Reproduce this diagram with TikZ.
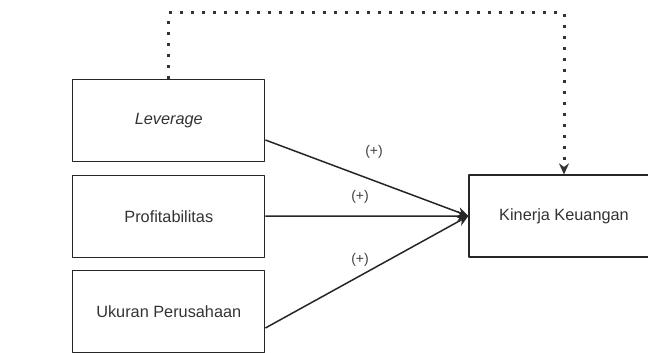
\documentclass[tikz,border=0pt]{standalone}
\usepackage{fontspec}
\setmainfont{Liberation Sans}
\usetikzlibrary{arrows.meta,calc}

\begin{document}
\begin{tikzpicture}[x=1pt,y=-1pt,>={Stealth[length=11pt,width=10pt]}, line join=round,
	box/.style={draw=black!85,line width=1.2pt,minimum width=192pt,minimum height=82pt,inner sep=0pt,text=black!80,font=\fontsize{16.3}{19}\selectfont},
	sign/.style={text=black!75,font=\fontsize{14}{16}\selectfont},
	link/.style={->,line width=1.5pt,draw=black!85},
	dotline/.style={->,line width=3pt,draw=black!80,dash pattern=on 3pt off 8pt}]
	\clip (0,0) rectangle (648,353);
	\node[box] (lev) at (168.8,120.5) {\itshape Leverage};
	\node[box] (pro) at (168.8,216.2) {Profitabilitas};
	\node[box] (uku) at (168.8,311.4) {Ukuran Perusahaan};
	\node[box,minimum width=190pt] (kin) at (564,216) {Kinerja Keuangan};
	\coordinate (top) at (0,13);
	\draw[link] ([yshift=-19.5pt]lev.east) -- (kin.west);
	\draw[link] (pro.east) -- (kin.west);
	\draw[link] ([yshift=-16.6pt]uku.east) -- (kin.west);
	\draw[dotline] (lev.north) -- (lev.north |- top) -- (kin.north |- top) -- (kin.north);
	\node[sign] (s1) at (374,152) {(+)};
	\node[sign] (s2) at (360,197) {(+)};
	\node[sign] (s3) at (360,260) {(+)};
\end{tikzpicture}
\end{document}
